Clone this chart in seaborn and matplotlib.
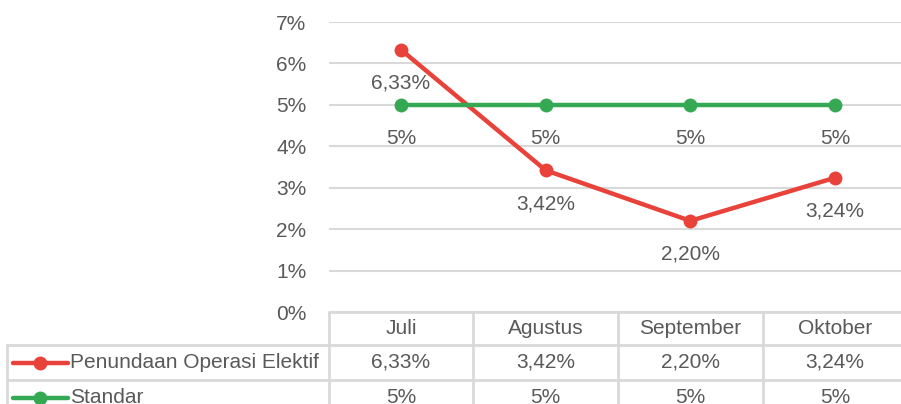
import pandas as pd
import seaborn as sns
import matplotlib.pyplot as plt
import matplotlib.transforms as mtransforms
from matplotlib.lines import Line2D

months = ["Juli", "Agustus", "September", "Oktober"]
penundaan = [6.33, 3.42, 2.20, 3.24]
standar = [5, 5, 5, 5]
penundaan_labels = ["6,33%", "3,42%", "2,20%", "3,24%"]
standar_labels = ["5%", "5%", "5%", "5%"]
series_names = ["Penundaan Operasi Elektif", "Standar"]
y_ticks = [0, 1, 2, 3, 4, 5, 6, 7]

red = "#E8423A"
green = "#35A853"
grid_c = "#D9D9D9"
text_c = "#595959"
fs = 15

sns.set_style("white")
plt.rcParams["font.family"] = ["Liberation Sans", "DejaVu Sans"]

df = pd.DataFrame({
    "pos": list(range(len(months))) * 2,
    "value": penundaan + standar,
    "series": [series_names[0]] * 4 + [series_names[1]] * 4,
})

fig = plt.figure(figsize=(9.01, 4.04), dpi=100)
ax = fig.add_axes([328.7 / 901, 92 / 404, 578.6 / 901, 290 / 404])

sns.lineplot(data=df, x="pos", y="value", hue="series", palette=[red, green],
             marker="o", markersize=10, markeredgewidth=0, linewidth=3.2,
             ax=ax, legend=False, zorder=3)

ax.set_xlim(-0.5, 3.5)
ax.set_ylim(0, 7)
ax.set_yticks(y_ticks)
ax.set_yticklabels([f"{t}%" for t in y_ticks])
ax.set_xticks([])
ax.set_xlabel("")
ax.set_ylabel("")
ax.tick_params(axis="y", length=0, pad=16, labelsize=fs, labelcolor=text_c)
for s in ax.spines.values():
    s.set_visible(False)
ax.yaxis.grid(True, color=grid_c, linewidth=1.5, zorder=0)

# data labels below points
for i in range(len(months)):
    ax.annotate(penundaan_labels[i], (i, penundaan[i]), xytext=(0, -24),
                textcoords="offset points", ha="center", va="center",
                fontsize=fs, color=text_c)
    ax.annotate(standar_labels[i], (i, standar[i]), xytext=(0, -24),
                textcoords="offset points", ha="center", va="center",
                fontsize=fs, color=text_c)

# data table below the plot
bt = mtransforms.blended_transform_factory(ax.transData, ax.transAxes)
ft = mtransforms.blended_transform_factory(fig.transFigure, ax.transAxes)
y_top = 0
y_r1 = -33 / 290
y_r2 = -68 / 290
y_bot = -105 / 290
lk = dict(color=grid_c, linewidth=2, clip_on=False)

for xb in [-0.5, 0.5, 1.5, 2.5, 3.5]:
    ax.add_line(Line2D([xb, xb], [y_top, y_bot], transform=bt, **lk))
ax.add_line(Line2D([-0.5, 3.5], [y_top, y_top], transform=bt, **lk))
x_left = 7 / 901
for yy in [y_r1, y_r2]:
    ax.add_line(Line2D([x_left, 1.01], [yy, yy], transform=ft, **lk))
ax.add_line(Line2D([x_left, x_left], [y_r1, y_bot], transform=ft, **lk))

row1_y = (y_r1 + y_r2) / 2
row2_y = y_r2 - 17.5 / 290
for i, m in enumerate(months):
    ax.text(i, (y_top + y_r1) / 2, m, transform=bt, ha="center", va="center",
            fontsize=fs, color=text_c)
    ax.text(i, row1_y, penundaan_labels[i], transform=bt,
            ha="center", va="center", fontsize=fs, color=text_c)
    ax.text(i, row2_y, standar_labels[i], transform=bt,
            ha="center", va="center", fontsize=fs, color=text_c)

for yy, name, col in [(row1_y, series_names[0], red),
                      (row2_y, series_names[1], green)]:
    ax.add_line(Line2D([13 / 901, 68 / 901], [yy, yy], transform=ft, color=col,
                       linewidth=3.2, clip_on=False))
    ax.add_line(Line2D([40 / 901], [yy], transform=ft, color=col, marker="o",
                       markersize=10, markeredgewidth=0, clip_on=False))
    ax.text(70 / 901, yy, name, transform=ft, ha="left", va="center",
            fontsize=fs, color=text_c)

fig.savefig("out.png", dpi=100)
